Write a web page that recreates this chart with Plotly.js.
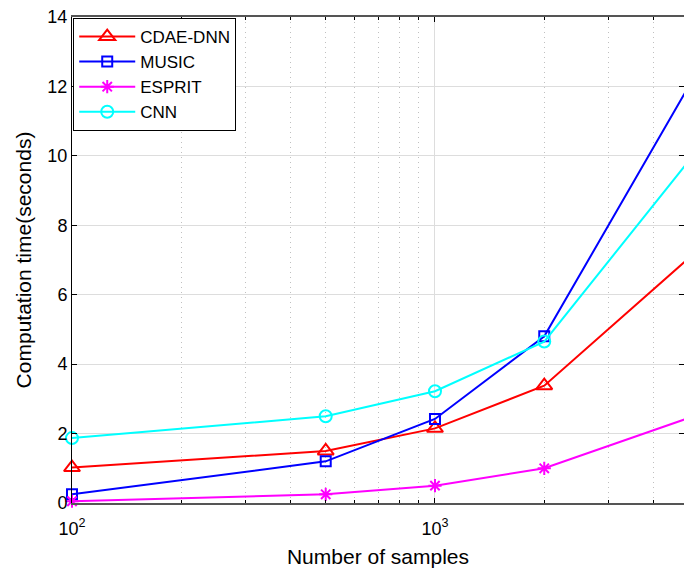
<!DOCTYPE html>
<html>
<head>
<meta charset="utf-8">
<script src="https://cdn.plot.ly/plotly-3.0.1.min.js"></script>
<style>html,body{margin:0;padding:0;overflow:hidden;background:#fff}</style>
</head>
<body>
<div id="chart" style="width:684px;height:569px"></div>
<script>
var samples = [100, 500, 1000, 2000, 5000];
var cdaeDnn = [1.02, 1.5, 2.15, 3.38, 7.05];
var music   = [0.25, 1.2, 2.42, 4.8, 12.0];
var esprit  = [0.05, 0.25, 0.5, 1.0, 2.45];
var cnn     = [1.87, 2.5, 3.22, 4.65, 9.85];
var seriesNames = ['CDAE-DNN', 'MUSIC', 'ESPRIT', 'CNN'];
var xTickVals = [100, 1000];
var xTickText = ['10<sup>2</sup>', '10<sup>3</sup>'];
var xMinorVals = [200, 300, 400, 500, 600, 700, 800, 900, 2000, 3000, 4000, 5000];
var yTickVals = [0, 2, 4, 6, 8, 10, 12, 14];

function mk(y, name, color, symbol, size) {
  return {
    x: samples, y: y, name: name, type: 'scatter', mode: 'lines+markers',
    line: {color: color, width: 2},
    marker: {symbol: symbol, size: size, color: color, line: {color: color, width: 2}},
    cliponaxis: false
  };
}
var data = [
  mk(cdaeDnn, seriesNames[0], '#ff0000', 'triangle-up-open', 14),
  mk(music, seriesNames[1], '#0000ff', 'square-open', 10),
  mk(esprit, seriesNames[2], '#ff00ff', 'asterisk-open', 11),
  mk(cnn, seriesNames[3], '#00ffff', 'circle-open', 12)
];
var layout = {
  width: 684, height: 569,
  margin: {l: 72, r: 0, t: 17, b: 66},
  paper_bgcolor: '#fff', plot_bgcolor: '#fff',
  font: {family: 'Liberation Sans, Arial, sans-serif', size: 18, color: '#000'},
  showlegend: true,
  legend: {x: 0.002, y: 0.998, xanchor: 'left', yanchor: 'top',
    bgcolor: '#fff', bordercolor: '#000', borderwidth: 1,
    font: {size: 17, color: '#000'}, itemwidth: 56, tracegroupgap: 0},
  xaxis: {
    type: 'log', range: [2, 3.686],
    tickmode: 'array', tickvals: xTickVals, ticktext: xTickText,
    ticks: 'inside', ticklen: 5, tickcolor: '#000', ticklabelstandoff: 8,
    showgrid: true, gridcolor: '#dddddd', gridwidth: 1,
    showline: true, linecolor: '#555', linewidth: 2, mirror: 'ticks',
    zeroline: false,
    minor: {tickmode: 'array', tickvals: xMinorVals, ticks: 'inside', ticklen: 3, tickcolor: '#000',
      showgrid: true, gridcolor: '#c0c0c0', griddash: '1px,4px', gridwidth: 1},
    title: {text: 'Number of samples', font: {size: 21}, standoff: 12},
    tickfont: {size: 18}
  },
  yaxis: {
    range: [0, 14], tickmode: 'array', tickvals: yTickVals,
    ticks: 'inside', ticklen: 5, tickcolor: '#000',
    showgrid: true, gridcolor: '#dddddd', gridwidth: 1,
    showline: true, linecolor: '#000', linewidth: 1, mirror: 'ticks',
    zeroline: false,
    title: {text: 'Computation time(seconds)', font: {size: 21}, standoff: 10},
    tickfont: {size: 18}
  }
};
Plotly.newPlot('chart', data, layout, {displayModeBar: false, staticPlot: true});
</script>
</body>
</html>
